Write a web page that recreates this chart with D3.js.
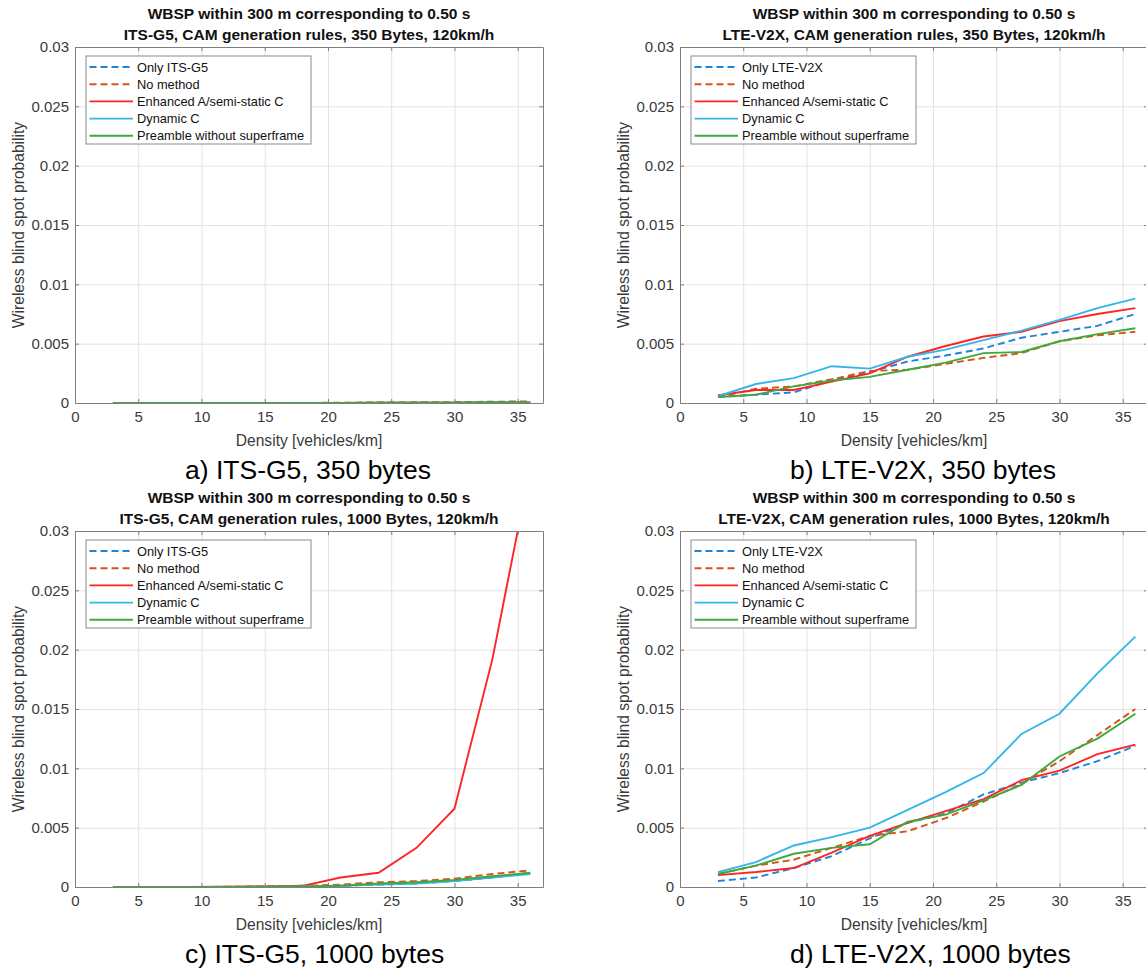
<!DOCTYPE html>
<html>
  <head>
    <meta charset="utf-8">
    <script src="https://d3js.org/d3.v7.min.js"></script>
    <title>WBSP within 300 m</title>
    <style>
      body { margin: 0; background: #fff; }
      text { font-family: "Liberation Sans", Arial, sans-serif; }
    </style>
  </head>
  <body>
    <div id="plot"></div>
    <script>

    // x values (vehicles/km)
    const density = [3, 6, 9, 12, 15, 18, 21, 24, 27, 30, 33, 36];

    const xTicks = [0, 5, 10, 15, 20, 25, 30, 35];
    const yTicks = [0, 0.005, 0.01, 0.015, 0.02, 0.025, 0.03];
    const yTickLabels = ["0", "0.005", "0.01", "0.015", "0.02", "0.025", "0.03"];

    const seriesNames = ["Only", "No method", "Enhanced A/semi-static C", "Dynamic C", "Preamble without superframe"];

    // a) ITS-G5, 350 bytes
    const aOnly     = [0, 0, 0, 0, 0, 0, 0.00001, 0.00002, 0.00003, 0.00004, 0.00005, 0.00006];
    const aNoMethod = [0, 0, 0, 0, 0, 0.00001, 0.00002, 0.00004, 0.00006, 0.00008, 0.00011, 0.00014];
    const aEnhanced = [0, 0, 0, 0, 0, 0, 0.00001, 0.00002, 0.00002, 0.00003, 0.00004, 0.00005];
    const aDynamic  = [0, 0, 0, 0, 0, 0, 0.00001, 0.00001, 0.00002, 0.00003, 0.00004, 0.00005];
    const aPreamble = [0, 0, 0, 0, 0, 0, 0.00001, 0.00002, 0.00002, 0.00003, 0.00004, 0.00005];

    // b) LTE-V2X, 350 bytes
    const bOnly     = [0.0005, 0.0007, 0.0009, 0.0019, 0.0026, 0.0035, 0.0040, 0.0046, 0.0055, 0.0060, 0.0065, 0.0075];
    const bNoMethod = [0.0005, 0.0012, 0.0014, 0.0020, 0.0027, 0.0028, 0.0033, 0.0038, 0.0042, 0.0052, 0.0057, 0.0060];
    const bEnhanced = [0.00065, 0.0011, 0.0011, 0.0018, 0.0025, 0.0039, 0.0048, 0.0056, 0.0060, 0.0069, 0.0075, 0.0080];
    const bDynamic  = [0.00057, 0.0016, 0.0021, 0.0031, 0.0029, 0.0039, 0.0045, 0.0053, 0.0061, 0.0070, 0.0080, 0.0088];
    const bPreamble = [0.0005, 0.0007, 0.0014, 0.0019, 0.0022, 0.0028, 0.0034, 0.0042, 0.0043, 0.0052, 0.0058, 0.0063];

    // c) ITS-G5, 1000 bytes
    const cOnly     = [0, 0, 0, 0, 0, 0.00005, 0.0001, 0.0002, 0.0003, 0.0005, 0.0008, 0.0012];
    const cNoMethod = [0, 0, 0, 0.00002, 0.00005, 0.0001, 0.0002, 0.0004, 0.0005, 0.0007, 0.0011, 0.0014];
    const cEnhanced = [0, 0, 0, 0.00002, 0.00005, 0.0001, 0.0008, 0.0012, 0.0033, 0.0066, 0.0192, 0.0354];
    const cDynamic  = [0, 0, 0, 0, 0, 0.00005, 0.0001, 0.0002, 0.0003, 0.0005, 0.0008, 0.0011];
    const cPreamble = [0, 0, 0, 0, 0.00002, 0.00005, 0.0001, 0.0003, 0.0004, 0.0006, 0.0009, 0.0012];

    // d) LTE-V2X, 1000 bytes
    const dOnly     = [0.0005, 0.0008, 0.0016, 0.0026, 0.0041, 0.0054, 0.0062, 0.0078, 0.0088, 0.0096, 0.0106, 0.0119];
    const dNoMethod = [0.0011, 0.0018, 0.0023, 0.0033, 0.0043, 0.0047, 0.0058, 0.0072, 0.0087, 0.0106, 0.0128, 0.0150];
    const dEnhanced = [0.0010, 0.00126, 0.0016, 0.0029, 0.0043, 0.0054, 0.0064, 0.0074, 0.0090, 0.0098, 0.0112, 0.0120];
    const dDynamic  = [0.00126, 0.0021, 0.0035, 0.0042, 0.0050, 0.0065, 0.0080, 0.0096, 0.0129, 0.0146, 0.0180, 0.0211];
    const dPreamble = [0.0011, 0.0018, 0.0028, 0.0033, 0.0036, 0.0055, 0.0061, 0.0073, 0.0086, 0.0110, 0.0125, 0.0146];

    const colors = ["#1f84d6", "#d95319", "#ff2424", "#35b6e8", "#3fa83f"];
    const dashed = [true, true, false, false, false];

    const panels = [
      { left: 75,  top: 47,  tech: "ITS-G5",  bytes: 350,  cap: "a) ITS-G5, 350 bytes",    data: [aOnly, aNoMethod, aEnhanced, aDynamic, aPreamble] },
      { left: 680, top: 47,  tech: "LTE-V2X", bytes: 350,  cap: "b) LTE-V2X, 350 bytes",   data: [bOnly, bNoMethod, bEnhanced, bDynamic, bPreamble] },
      { left: 75,  top: 531, tech: "ITS-G5",  bytes: 1000, cap: "c) ITS-G5, 1000 bytes",   data: [cOnly, cNoMethod, cEnhanced, cDynamic, cPreamble] },
      { left: 680, top: 531, tech: "LTE-V2X", bytes: 1000, cap: "d) LTE-V2X, 1000 bytes",  data: [dOnly, dNoMethod, dEnhanced, dDynamic, dPreamble] }
    ];

    const width = 468, height = 356;

    const svg = d3.select("#plot")
      .append("svg")
        .attr("width", 1146)
        .attr("height", 971);

    const x = d3.scaleLinear().domain([0, 37]).range([0, width]);
    const y = d3.scaleLinear().domain([0, 0.03]).range([height, 0]);

    panels.forEach(function(p, i) {
      const g = svg.append("g")
        .attr("transform", "translate(" + p.left + "," + p.top + ")");

      // grid
      g.append("g")
        .attr("class", "grid")
        .attr("transform", "translate(0," + height + ")")
        .call(d3.axisBottom(x).tickValues(xTicks).tickSize(-height).tickFormat(""))
        .call(s => s.select(".domain").remove())
        .selectAll("line").attr("stroke", "#e3e3e3");
      g.append("g")
        .attr("class", "grid")
        .call(d3.axisLeft(y).tickValues(yTicks).tickSize(-width).tickFormat(""))
        .call(s => s.select(".domain").remove())
        .selectAll("line").attr("stroke", "#e3e3e3");

      // lines, clipped to the axes box
      g.append("clipPath").attr("id", "clip" + i)
        .append("rect").attr("width", width).attr("height", height);

      const line = d3.line()
        .x((d, j) => x(density[j]))
        .y(d => y(d));

      g.append("g").attr("clip-path", "url(#clip" + i + ")")
        .selectAll("path")
        .data(p.data)
        .enter()
        .append("path")
          .attr("d", d => line(d))
          .attr("fill", "none")
          .attr("stroke", (d, k) => colors[k])
          .attr("stroke-width", 1.9)
          .attr("stroke-dasharray", (d, k) => dashed[k] ? "7,4" : null);

      // axes (ticks inside, box on)
      const tickCol = "#3a3a3a";
      const xb = g.append("g")
        .attr("transform", "translate(0," + height + ")")
        .call(d3.axisBottom(x).tickValues(xTicks).tickSizeInner(-4).tickSizeOuter(0).tickPadding(8));
      const yl = g.append("g")
        .call(d3.axisLeft(y).tickValues(yTicks).tickSizeInner(-4).tickSizeOuter(0).tickPadding(6)
          .tickFormat((d, k) => yTickLabels[k]));
      g.append("g")
        .call(d3.axisTop(x).tickValues(xTicks).tickSizeInner(-4).tickSizeOuter(0).tickFormat(""));
      g.append("g")
        .attr("transform", "translate(" + width + ",0)")
        .call(d3.axisRight(y).tickValues(yTicks).tickSizeInner(-4).tickSizeOuter(0).tickFormat(""));
      g.selectAll(".domain").attr("stroke", "#7f7f7f");
      g.selectAll(".tick line").filter(function() { return this.parentNode.parentNode.getAttribute("class") !== "grid"; })
        .attr("stroke", "#7f7f7f");
      xb.selectAll("text").style("font-size", "15px").attr("fill", tickCol);
      yl.selectAll("text").style("font-size", "15px").attr("fill", tickCol);

      // titles
      g.append("text")
        .attr("x", width / 2).attr("y", -34)
        .attr("text-anchor", "middle").attr("dominant-baseline", "central")
        .style("font-weight", "bold").style("font-size", "15.5px").attr("fill", "#111")
        .text("WBSP within 300 m corresponding to 0.50 s");
      g.append("text")
        .attr("x", width / 2).attr("y", -12.5)
        .attr("text-anchor", "middle").attr("dominant-baseline", "central")
        .style("font-weight", "bold").style("font-size", "15.5px").attr("fill", "#111")
        .text(p.tech + ", CAM generation rules, " + p.bytes + " Bytes, 120km/h");

      // axis labels
      g.append("text")
        .attr("x", width / 2).attr("y", height + 37)
        .attr("text-anchor", "middle").attr("dominant-baseline", "central")
        .style("font-size", "15.6px").attr("fill", tickCol)
        .text("Density [vehicles/km]");
      g.append("text")
        .attr("transform", "rotate(-90)")
        .attr("x", -height / 2).attr("y", -57)
        .attr("text-anchor", "middle").attr("dominant-baseline", "central")
        .style("font-size", "15.6px").attr("fill", tickCol)
        .text("Wireless blind spot probability");

      // caption
      g.append("text")
        .attr("x", 110).attr("y", height + 67)
        .attr("dominant-baseline", "central")
        .style("font-size", "26.5px").attr("fill", "#000")
        .text(p.cap);

      // legend
      const lg = g.append("g").attr("transform", "translate(11,9)");
      lg.append("rect")
        .attr("width", 225).attr("height", 88)
        .attr("fill", "#fff").attr("stroke", "#8a8a8a").attr("stroke-width", 1);
      seriesNames.forEach(function(name, k) {
        const yy = 11 + k * 17.2;
        lg.append("line")
          .attr("x1", 3.5).attr("x2", 47).attr("y1", yy).attr("y2", yy)
          .attr("stroke", colors[k]).attr("stroke-width", 1.9)
          .attr("stroke-dasharray", dashed[k] ? "7,4" : null);
        lg.append("text")
          .attr("x", 51).attr("y", yy)
          .attr("dominant-baseline", "central")
          .style("font-size", "12.8px").attr("fill", "#111")
          .text(k === 0 ? "Only " + p.tech : name);
      });
    });

    </script>
  </body>
</html>
